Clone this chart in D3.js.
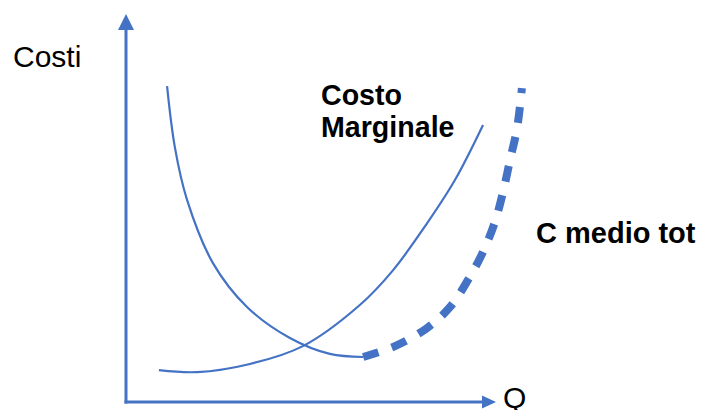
<!DOCTYPE html>
<html>
<head>
<meta charset="utf-8">
<script src="https://cdn.jsdelivr.net/npm/d3@7/dist/d3.min.js"></script>
<style>
  html, body { margin: 0; padding: 0; background: #fff; }
  svg { display: block; }
  text { font-family: "Liberation Sans", Arial, Helvetica, sans-serif; fill: #000; }
</style>
</head>
<body>
<svg id="chart" width="703" height="410"></svg>
<script>
// Quantity (Q) and cost (C) values along each curve, in axis units 0–100
const acSolidQ = [11.1, 13.2, 16.5, 23.5, 32.7, 44.3, 55.1, 64.1];
const acSolidC = [81.4, 65.7, 52.1, 35.8, 24.5, 16.5, 12.4, 11.6];

const acDashQ = [64.1, 72.7, 81.4, 87.6, 92.4, 96.5, 99.7, 101.9, 103.8, 105.7, 107.0];
const acDashC = [11.6, 14.4, 19.1, 24.5, 31.4, 38.7, 46.4, 54.1, 62.4, 70.6, 80.9];

const mcQ = [8.9, 19.2, 33.5, 47.8, 63.2, 72.2, 81.4, 88.9, 96.5];
const mcC = [8.2, 7.7, 9.8, 14.4, 25.0, 34.0, 46.1, 57.2, 71.4];

const axisLabels = ["Costi", "Q"];
const curveLabels = [["Costo", "Marginale"], ["C medio tot"]];

const blue = "#4472C4";
const svg = d3.select("#chart");

const x = d3.scaleLinear().domain([0, 100]).range([126, 496]);
const y = d3.scaleLinear().domain([0, 100]).range([402, 14]);

const zip = (qs, cs) => qs.map((q, i) => ({ q, c: cs[i] }));

const line = d3.line()
  .x(d => x(d.q))
  .y(d => y(d.c))
  .curve(d3.curveCatmullRom.alpha(0.5));

// Axes with arrowheads
const x0 = x(0), y0 = y(0), xEnd = x(100), yEnd = y(100);
svg.append("line")
  .attr("x1", x0).attr("y1", y0 + 1.5)
  .attr("x2", x0).attr("y2", yEnd + 12)
  .attr("stroke", blue).attr("stroke-width", 3);
svg.append("line")
  .attr("x1", x0 - 1.5).attr("y1", y0)
  .attr("x2", xEnd - 10).attr("y2", y0)
  .attr("stroke", blue).attr("stroke-width", 3);
svg.append("path")
  .attr("d", `M${x0},${yEnd} L${x0 + 8},${yEnd + 16} L${x0 - 8},${yEnd + 16} Z`)
  .attr("fill", blue);
svg.append("path")
  .attr("d", `M${xEnd},${y0} L${xEnd - 14},${y0 + 6.5} L${xEnd - 14},${y0 - 6.5} Z`)
  .attr("fill", blue);

// Marginal cost curve
svg.append("path")
  .attr("d", line(zip(mcQ, mcC)))
  .attr("fill", "none").attr("stroke", blue).attr("stroke-width", 2.2);

// Average total cost: solid falling branch, dashed rising branch
svg.append("path")
  .attr("d", line(zip(acSolidQ, acSolidC)))
  .attr("fill", "none").attr("stroke", blue).attr("stroke-width", 2.2);
svg.append("path")
  .attr("d", line(zip(acDashQ, acDashC)))
  .attr("fill", "none").attr("stroke", blue).attr("stroke-width", 8)
  .attr("stroke-dasharray", "16 14");

// Axis labels
svg.append("text").attr("x", 13).attr("y", 67)
  .attr("font-size", 30).text(axisLabels[0]);
svg.append("text").attr("x", 503).attr("y", 408)
  .attr("font-size", 30).text(axisLabels[1]);

// Curve labels
const mcLabel = svg.append("text").attr("font-size", 28.6).attr("font-weight", "bold");
curveLabels[0].forEach((t, i) => {
  mcLabel.append("tspan").attr("x", 321).attr("y", 105 + i * 32).text(t);
});
svg.append("text").attr("x", 536).attr("y", 243)
  .attr("font-size", 29).attr("font-weight", "bold").text(curveLabels[1][0]);
</script>
</body>
</html>
